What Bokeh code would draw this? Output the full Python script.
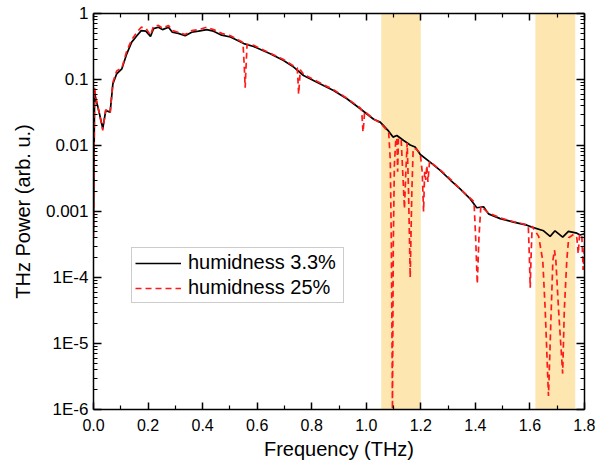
from bokeh.plotting import figure
from bokeh.models import (Range1d, FixedTicker, LinearAxis, LogAxis, BoxAnnotation,
                          Legend, LegendItem, PrintfTickFormatter, CustomJSTickFormatter)
from bokeh.embed import file_html
from bokeh.resources import INLINE

# ---------------- data ----------------
dry_freq = [0.000, 0.004, 0.008, 0.015, 0.022, 0.034, 0.045, 0.061, 0.071, 0.085,
            0.104, 0.122, 0.140, 0.159, 0.175, 0.192, 0.209, 0.220, 0.238, 0.253,
            0.275, 0.289, 0.311, 0.336, 0.360, 0.385, 0.415, 0.440, 0.470, 0.502,
            0.551, 0.587, 0.648, 0.697, 0.734, 0.770, 0.819, 0.880, 0.929, 0.978,
            1.027, 1.051, 1.082, 1.098, 1.112, 1.137, 1.161, 1.179, 1.198, 1.234,
            1.271, 1.308, 1.344, 1.381, 1.405, 1.430, 1.448, 1.491, 1.540, 1.589,
            1.607, 1.650, 1.674, 1.692, 1.720, 1.741, 1.772, 1.784, 1.800]
dry_power = [0.0005, 0.068, 0.051, 0.040, 0.030, 0.018, 0.034, 0.032, 0.086, 0.122,
             0.145, 0.245, 0.368, 0.46, 0.55, 0.54, 0.45, 0.59, 0.62, 0.57,
             0.62, 0.52, 0.50, 0.46, 0.52, 0.54, 0.57, 0.54, 0.47, 0.44,
             0.35, 0.316, 0.245, 0.194, 0.154, 0.115, 0.091, 0.068, 0.051, 0.036,
             0.025, 0.0226, 0.0165, 0.0134, 0.0142, 0.0119, 0.0102, 0.0095, 0.0073, 0.0056,
             0.0042, 0.0030, 0.0022, 0.00155, 0.00114, 0.00118, 0.00092, 0.00078, 0.00069, 0.00062,
             0.00058, 0.00051, 0.00042, 0.00051, 0.00041, 0.00050, 0.00047, 0.00044, 0.00046]

humid_freq = [0.000, 0.004, 0.008, 0.015, 0.022, 0.034, 0.045, 0.061, 0.071, 0.085,
              0.104, 0.122, 0.140, 0.159, 0.175, 0.192, 0.209, 0.220, 0.238, 0.253,
              0.275, 0.289, 0.311, 0.336, 0.360, 0.385, 0.415, 0.440, 0.470, 0.502,
              0.540, 0.548, 0.553, 0.556, 0.559, 0.563, 0.587, 0.648, 0.697, 0.734,
              0.747, 0.750, 0.752, 0.755, 0.758, 0.770, 0.819, 0.880, 0.929, 0.978,
              0.983, 0.986, 0.988, 0.991, 0.994, 1.027, 1.051, 1.082, 1.088, 1.092,
              1.096, 1.099, 1.103, 1.108, 1.112, 1.115, 1.118, 1.128, 1.135, 1.140,
              1.145, 1.150, 1.155, 1.161, 1.167, 1.172, 1.185, 1.198, 1.205, 1.210,
              1.214, 1.218, 1.222, 1.226, 1.232, 1.245, 1.271, 1.308, 1.344, 1.381,
              1.395, 1.401, 1.407, 1.413, 1.420, 1.448, 1.491, 1.540, 1.589, 1.594,
              1.598, 1.601, 1.604, 1.608, 1.620, 1.632, 1.647, 1.656, 1.668, 1.678,
              1.684, 1.690, 1.695, 1.705, 1.720, 1.726, 1.735, 1.742, 1.760, 1.772,
              1.777, 1.782, 1.790, 1.795, 1.800]
humid_power = [0.0004, 0.075, 0.055, 0.040, 0.030, 0.017, 0.035, 0.031, 0.090, 0.135,
               0.150, 0.27, 0.40, 0.52, 0.62, 0.60, 0.47, 0.64, 0.66, 0.60,
               0.66, 0.55, 0.52, 0.48, 0.55, 0.57, 0.62, 0.57, 0.50, 0.46,
               0.38, 0.36, 0.15, 0.075, 0.15, 0.34, 0.33, 0.25, 0.20, 0.16,
               0.15, 0.09, 0.060, 0.09, 0.14, 0.12, 0.094, 0.070, 0.052, 0.037,
               0.034, 0.022, 0.016, 0.022, 0.033, 0.025, 0.022, 0.016, 0.006, 0.0003,
               0.000001, 0.0003, 0.005, 0.012, 0.013, 0.004, 0.013, 0.012, 0.003, 0.0011,
               0.004, 0.011, 0.002, 0.0001, 0.002, 0.009, 0.0088, 0.0075, 0.004, 0.0010,
               0.004, 0.0030, 0.0050, 0.0028, 0.0058, 0.0052, 0.0043, 0.0031, 0.0022, 0.0016,
               0.0014, 0.0004, 0.00008, 0.0004, 0.0012, 0.00095, 0.0008, 0.0007, 0.00063, 0.0006,
               0.0002, 0.00007, 0.0002, 0.0006, 0.00050, 0.00042, 0.00018, 0.000032, 0.0000016, 0.000032,
               0.00018, 0.00026, 0.00018, 0.000032, 0.0000035, 0.000032, 0.00018, 0.00040, 0.00045, 0.00040,
               0.00023, 0.00045, 0.00045, 0.00013, 0.0003]

band_left = [1.055, 1.62]
band_right = [1.20, 1.766]

x_ticks = [0.0, 0.2, 0.4, 0.6, 0.8, 1.0, 1.2, 1.4, 1.6, 1.8]
x_minor = [0.1, 0.3, 0.5, 0.7, 0.9, 1.1, 1.3, 1.5, 1.7]
y_ticks = [1e-6, 1e-5, 1e-4, 1e-3, 1e-2, 1e-1, 1.0]
y_labels = ["1E-6", "1E-5", "1E-4", "0.001", "0.01", "0.1", "1"]
y_minor = [m * 10.0 ** e for e in range(-6, 0) for m in range(2, 10)]

series_labels = ["humidness 3.3%", "humidness 25%"]

FONT = "Liberation Sans"

# ---------------- figure ----------------
p = figure(width=595, height=470, y_axis_type="log",
           x_range=Range1d(0, 1.8), y_range=Range1d(1e-6, 1.0),
           output_backend="svg", toolbar_location=None,
           min_border_left=93, min_border_right=11, min_border_top=13, min_border_bottom=61)
p.outline_line_color = None
p.grid.visible = False
p.background_fill_color = "white"
p.border_fill_color = "white"

for l, r in zip(band_left, band_right):
    p.add_layout(BoxAnnotation(left=l, right=r, fill_color="#fde6b0", fill_alpha=1.0,
                               line_color=None, level="underlay"))

r_dry = p.line(dry_freq, dry_power, line_color="black", line_width=1.7)
r_hum = p.line(humid_freq, humid_power, line_color="#ff1a1a", line_width=1.7, line_dash="6 4")

xt = FixedTicker(ticks=x_ticks, minor_ticks=x_minor)
yt = FixedTicker(ticks=y_ticks, minor_ticks=y_minor)


def style(ax, major_len, minor_len, label_size):
    ax.axis_line_color = "black"
    ax.axis_line_width = 1.5
    ax.major_tick_line_color = "black"
    ax.minor_tick_line_color = "black"
    ax.major_tick_line_width = 1.5
    ax.minor_tick_line_width = 1.2
    ax.major_tick_in = major_len
    ax.major_tick_out = 0
    ax.minor_tick_in = minor_len
    ax.minor_tick_out = 0
    ax.major_label_text_font = FONT
    ax.major_label_text_font_size = label_size
    ax.major_label_text_color = "black"
    ax.axis_label_text_font = FONT
    ax.axis_label_text_font_size = "20px"
    ax.axis_label_text_font_style = "normal"
    ax.axis_label_text_color = "black"


xa = p.xaxis[0]
xa.ticker = xt
xa.formatter = PrintfTickFormatter(format="%.1f")
style(xa, 7, 4, "16px")
xa.major_label_standoff = 9
xa.axis_label = "Frequency (THz)"
xa.axis_label_standoff = 4

ya = p.yaxis[0]
ya.ticker = yt
ya.major_label_overrides = dict(zip(y_ticks, y_labels))
style(ya, 8, 4, "17px")
ya.major_label_standoff = 5
ya.axis_label = "THz Power (arb. u.)"
ya.axis_label_standoff = 9

blank = CustomJSTickFormatter(code="return '';")
top = LinearAxis(ticker=xt, formatter=blank)
style(top, 7, 4, "0px")
top.major_label_standoff = 0
p.add_layout(top, "above")

right = LogAxis(ticker=yt, formatter=blank)
style(right, 8, 4, "0px")
right.major_label_standoff = 0
p.add_layout(right, "right")

legend = Legend(items=[LegendItem(label=series_labels[0], renderers=[r_dry]),
                       LegendItem(label=series_labels[1], renderers=[r_hum])],
                location=(38, 106), orientation="vertical")
legend.label_text_font = FONT
legend.label_text_font_size = "20px"
legend.label_text_color = "black"
legend.glyph_width = 46
legend.glyph_height = 20
legend.label_height = 20
legend.label_standoff = 7
legend.label_width = 152
legend.spacing = 2
legend.padding = 3
legend.margin = 0
legend.border_line_color = "#9a9a9a"
legend.border_line_width = 1
legend.background_fill_color = "white"
legend.background_fill_alpha = 1.0
p.add_layout(legend, "center")

open("out.html", "w").write(file_html(p, INLINE))
